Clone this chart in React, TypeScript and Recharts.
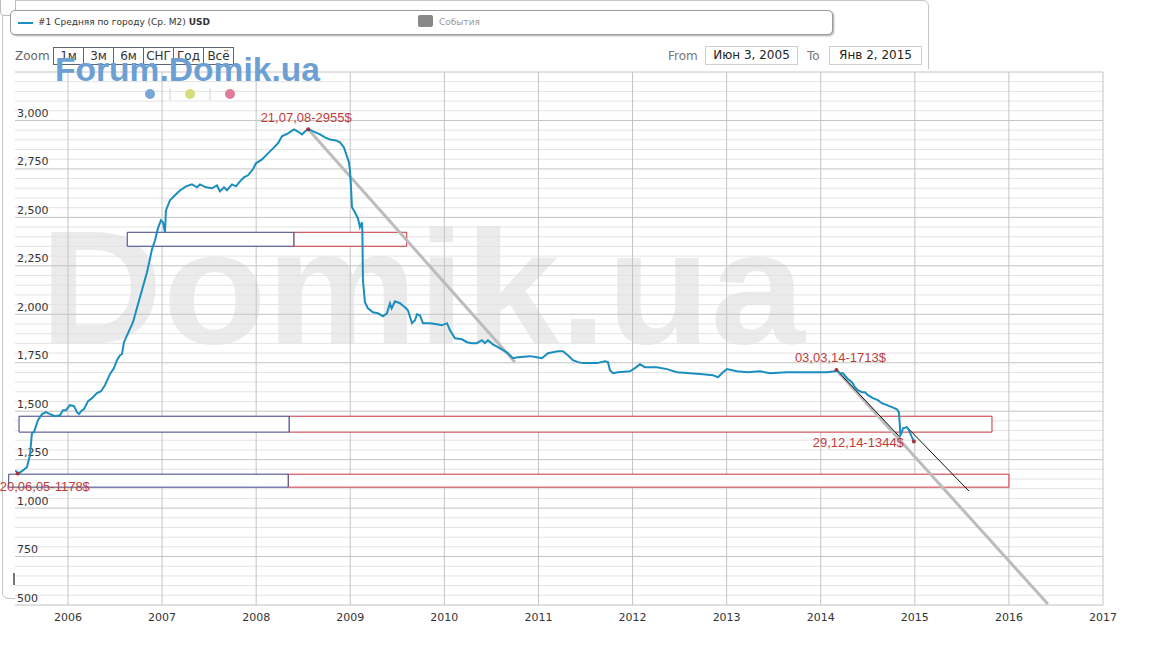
import React from 'react';
import {
  ComposedChart, Line, XAxis, YAxis, CartesianGrid, ReferenceArea, ReferenceLine, ReferenceDot,
} from 'recharts';

// ---- series: date (decimal year) / average price per m2, USD ----
const dates = [
  2005.44, 2005.469, 2005.511, 2005.564, 2005.596, 2005.617, 2005.639, 2005.681, 2005.724, 2005.766,
  2005.809, 2005.862, 2005.915, 2005.947, 2005.979, 2006.021, 2006.064, 2006.096, 2006.117, 2006.149,
  2006.170, 2006.213, 2006.255, 2006.308, 2006.351, 2006.393, 2006.446, 2006.489, 2006.521, 2006.553,
  2006.574, 2006.595, 2006.691, 2006.765, 2006.840, 2006.893, 2006.925, 2006.956, 2006.988, 2007.010,
  2007.031, 2007.041, 2007.084, 2007.137, 2007.190, 2007.254, 2007.318, 2007.371, 2007.403, 2007.467,
  2007.530, 2007.583, 2007.615, 2007.658, 2007.690, 2007.743, 2007.785, 2007.828, 2007.870, 2007.913,
  2007.966, 2007.998, 2008.062, 2008.115, 2008.179, 2008.232, 2008.274, 2008.338, 2008.402, 2008.444,
  2008.487, 2008.519, 2008.553, 2008.678, 2008.731, 2008.784, 2008.848, 2008.891, 2008.933, 2008.965,
  2008.986, 2008.997, 2009.007, 2009.018, 2009.050, 2009.082, 2009.103, 2009.124, 2009.128, 2009.135,
  2009.156, 2009.188, 2009.241, 2009.294, 2009.347, 2009.390, 2009.422, 2009.440, 2009.475, 2009.528,
  2009.581, 2009.613, 2009.656, 2009.688, 2009.709, 2009.740, 2009.773, 2009.847, 2009.921, 2009.974,
  2010.028, 2010.060, 2010.113, 2010.187, 2010.240, 2010.293, 2010.346, 2010.400, 2010.431, 2010.463,
  2010.516, 2010.570, 2010.623, 2010.676, 2010.729, 2010.782, 2010.910, 2010.984, 2011.037, 2011.101,
  2011.154, 2011.207, 2011.260, 2011.313, 2011.367, 2011.420, 2011.473, 2011.547, 2011.622, 2011.707,
  2011.739, 2011.760, 2011.792, 2011.845, 2011.972, 2012.026, 2012.079, 2012.132, 2012.259, 2012.366,
  2012.472, 2012.610, 2012.748, 2012.854, 2012.908, 2012.961, 2013.003, 2013.109, 2013.216, 2013.354,
  2013.460, 2013.641, 2013.779, 2013.917, 2014.066, 2014.151, 2014.167, 2014.204, 2014.236, 2014.279,
  2014.331, 2014.364, 2014.395, 2014.438, 2014.470, 2014.502, 2014.555, 2014.608, 2014.650, 2014.703,
  2014.757, 2014.810, 2014.831, 2014.842, 2014.846, 2014.863, 2014.874, 2014.916, 2014.937, 2014.969,
  2014.990,
];
const prices = [
  1195, 1178, 1191, 1211, 1273, 1387, 1392, 1454, 1485, 1495,
  1485, 1474, 1479, 1505, 1505, 1531, 1526, 1495, 1485, 1505,
  1510, 1552, 1567, 1593, 1603, 1634, 1691, 1722, 1763, 1789,
  1794, 1856, 1959, 2088, 2217, 2335, 2382, 2443, 2485, 2474,
  2423, 2536, 2588, 2614, 2639, 2660, 2670, 2655, 2670, 2655,
  2650, 2665, 2634, 2655, 2640, 2670, 2660, 2686, 2706, 2717,
  2748, 2779, 2799, 2825, 2856, 2882, 2918, 2933, 2954, 2943,
  2928, 2943, 2955, 2928, 2913, 2902, 2897, 2887, 2861, 2815,
  2784, 2742, 2665, 2552, 2526, 2495, 2449, 2474, 2443, 2175,
  2062, 2031, 2010, 2005, 1990, 2005, 2057, 2031, 2067, 2057,
  2036, 2021, 1954, 1969, 2000, 1995, 1954, 1954, 1949, 1943,
  1954, 1918, 1876, 1871, 1856, 1851, 1851, 1866, 1851, 1866,
  1845, 1830, 1815, 1799, 1773, 1778, 1784, 1778, 1773, 1799,
  1804, 1809, 1809, 1789, 1763, 1753, 1748, 1748, 1748, 1758,
  1753, 1711, 1696, 1701, 1706, 1722, 1742, 1727, 1727, 1717,
  1701, 1696, 1691, 1686, 1675, 1701, 1717, 1706, 1701, 1706,
  1696, 1701, 1701, 1701, 1701, 1706, 1713, 1696, 1696, 1670,
  1650, 1624, 1608, 1598, 1598, 1583, 1567, 1557, 1541, 1531,
  1521, 1510, 1495, 1418, 1376, 1392, 1412, 1418, 1402, 1366,
  1344,
];

// ---- axes / grid ----
const yearTicks = [2006, 2007, 2008, 2009, 2010, 2011, 2012, 2013, 2014, 2015, 2016, 2017];
const priceTicks = [500, 750, 1000, 1250, 1500, 1750, 2000, 2250, 2500, 2750, 3000];
const minorPriceLines = Array.from({ length: 56 }, (_, i) => 500 + i * 50).filter((v) => v % 250 !== 0);
const majorPriceLines = [750, 1000, 1250, 1500, 1750, 2000, 2250, 2500, 2750, 3000, 3250];
const X_DOMAIN: [number, number] = [2005.437, 2017];
const Y_DOMAIN: [number, number] = [500, 3250];

// ---- annotations ----
const annDates = [2008.553, 2014.167, 2014.99, 2005.466];
const annValues = [2955, 1713, 1344, 1178];
const annTexts = ['21,07,08-2955$', '03,03,14-1713$', '29,12,14-1344$', '20,06,05-1178$'];

// support / resistance bands (blue part, red part)
const bandLow = [2351, 1392, 1108];
const bandHigh = [2423, 1474, 1175];
const bandStart = [2006.63, 2005.48, 2005.37];
const bandSplit = [2008.40, 2008.35, 2008.34];
const bandEnd = [2009.60, 2015.82, 2016.0];

// trend lines
const grayFromX = [2008.553, 2014.167];
const grayFromY = [2955, 1713];
const grayToX = [2010.75, 2016.414];
const grayToY = [1753, 505];
const blackFromX = [2014.167, 2014.916];
const blackFromY = [1713, 1418];
const blackToX = [2014.842, 2015.575];
const blackToY = [1366, 1088];

const data = dates.map((t, i) => ({ t, price: prices[i] }));

const LINE_COLOR = '#1b8ec0';
const ANN_COLOR = '#c23b3b';
const BLUE_BOX = '#3c3f86';
const RED_BOX = '#c8323c';
const GRID_MAJOR = '#c4c4c4';
const GRID_MINOR = '#e3e3e3';

// label placement styles: [dx, dy, anchor]
const annStyle: [number, number, 'start' | 'middle' | 'end'][] = [
  [-2, -7, 'middle'],
  [4, -8, 'middle'],
  [-10, 6, 'end'],
  [-18, 17, 'start'],
];

const yGen = (values: number[]) => (props: any) => {
  const s = props?.yAxis?.scale;
  const off = props?.offset ?? { top: 72, height: 533 };
  return values.map((v) =>
    typeof s === 'function' ? s(v) : off.top + ((Y_DOMAIN[1] - v) / (Y_DOMAIN[1] - Y_DOMAIN[0])) * off.height);
};
const xGen = (values: number[]) => (props: any) => {
  const s = props?.xAxis?.scale;
  const off = props?.offset ?? { left: 15, width: 1088 };
  return values.map((v) =>
    typeof s === 'function' ? s(v) : off.left + ((v - X_DOMAIN[0]) / (X_DOMAIN[1] - X_DOMAIN[0])) * off.width);
};

const makeYLabel = (value: number) => (p: any) => {
  const vb = p.viewBox || {};
  return (
    <text x={(vb.x ?? 0) + 2} y={(vb.y ?? 0) - 3.5} fontSize={11} fill="#333"
      fontFamily="DejaVu Sans, sans-serif">
      {value.toLocaleString('en-US')}
    </text>
  );
};

const makeAnnLabel = (i: number) => (p: any) => {
  const vb = p.viewBox || {};
  const cx = (vb.x ?? 0) + (vb.width ?? 0) / 2;
  const cy = (vb.y ?? 0) + (vb.height ?? 0) / 2;
  const [dx, dy, anchor] = annStyle[i];
  return (
    <text x={cx + dx} y={cy + dy} textAnchor={anchor} fontSize={13}
      fontFamily="Liberation Sans, Arial, sans-serif" fill={ANN_COLOR}>
      {annTexts[i]}
    </text>
  );
};

const abs = (s: React.CSSProperties): React.CSSProperties => ({ position: 'absolute', boxSizing: 'border-box', ...s });

const zoomButtons = ['1м', '3м', '6м', 'СНГ', 'Год', 'Всё'];

export default function App() {
  return (
    <div style={abs({ left: 0, top: 0, width: 1155, height: 667, background: '#fff', overflow: 'hidden', fontFamily: 'DejaVu Sans, sans-serif' })}>
      {/* outer frame of the original widget */}
      <div style={abs({ left: 2, top: 0, width: 927, height: 599, border: '1px solid #c6c6c6', borderRadius: 6 })} />
      <div style={abs({ left: 0, top: -4, width: 16, height: 20, border: '1px solid #bdbdbd', borderRadius: 4, background: '#fff' })} />
      {/* white area beneath the plot */}
      <div style={abs({ left: 15, top: 69, width: 1140, height: 598, background: '#fff' })} />
      <div style={abs({ left: 13, top: 573, width: 2, height: 12, background: '#777' })} />

      {/* watermark */}
      <svg width={1155} height={667} style={{ position: 'absolute', left: 0, top: 0 }}>
        <text x={40} y={343} fontSize={162} fontWeight="bold" fontFamily="Liberation Sans, Arial, sans-serif"
          fill="#ebebeb" textLength={765} lengthAdjust="spacingAndGlyphs">Domik.ua</text>
      </svg>

      {/* chart */}
      <div style={abs({ left: 0, top: 0 })}>
        <ComposedChart width={1155} height={667} data={data}
          margin={{ top: 72, right: 52, bottom: 32, left: 15 }}>
          <CartesianGrid vertical={false} stroke={GRID_MINOR}
            horizontalCoordinatesGenerator={yGen(minorPriceLines)} />
          <CartesianGrid stroke={GRID_MAJOR}
            horizontalCoordinatesGenerator={yGen(majorPriceLines)}
            verticalCoordinatesGenerator={xGen(yearTicks)} />
          <XAxis type="number" dataKey="t" domain={X_DOMAIN} allowDataOverflow ticks={yearTicks}
            tickLine={false} axisLine={{ stroke: '#c0c0c0' }} height={30}
            tick={{ fontSize: 11, fill: '#333', fontFamily: 'DejaVu Sans, sans-serif' }}
            tickFormatter={(v: number) => String(v)} />
          <YAxis type="number" domain={Y_DOMAIN} allowDataOverflow ticks={priceTicks} mirror width={0}
            tickLine={false} axisLine={{ stroke: '#c0c0c0' }} tick={false} />

          {bandLow.map((lo, i) => (
            <ReferenceArea key={'r' + i} x1={bandSplit[i]} x2={bandEnd[i]} y1={lo} y2={bandHigh[i]}
              ifOverflow="visible" fill="#fff" fillOpacity={1} stroke={RED_BOX} strokeWidth={1} />
          ))}
          {bandLow.map((lo, i) => (
            <ReferenceArea key={'b' + i} x1={bandStart[i]} x2={bandSplit[i]} y1={lo} y2={bandHigh[i]}
              ifOverflow="visible" fill="#fff" fillOpacity={1} stroke={BLUE_BOX} strokeWidth={1} />
          ))}

          {priceTicks.map((v) => (
            <ReferenceLine key={'yl' + v} y={v} stroke="none" label={{ content: makeYLabel(v) }} />
          ))}

          {grayFromX.map((x, i) => (
            <ReferenceLine key={'g' + i} ifOverflow="visible"
              segment={[{ x, y: grayFromY[i] }, { x: grayToX[i], y: grayToY[i] }]}
              stroke="#bcbcbc" strokeWidth={3} />
          ))}
          {blackFromX.map((x, i) => (
            <ReferenceLine key={'k' + i} ifOverflow="visible"
              segment={[{ x, y: blackFromY[i] }, { x: blackToX[i], y: blackToY[i] }]}
              stroke="#111" strokeWidth={1} />
          ))}

          <Line type="linear" dataKey="price" stroke={LINE_COLOR} strokeWidth={2} dot={false}
            isAnimationActive={false} />

          {annDates.map((x, i) => (
            <ReferenceDot key={'d' + i} x={x} y={annValues[i]} r={2} fill="#a8303a" stroke="none"
              ifOverflow="visible" label={{ content: makeAnnLabel(i) }} />
          ))}
        </ComposedChart>
      </div>

      {/* legend */}
      <div style={abs({ left: 10, top: 10, width: 823, height: 25, border: '1px solid #9c9c9c', borderRadius: 5, boxShadow: '1px 1px 2px rgba(0,0,0,0.35)', background: '#fff' })}>
        <div style={abs({ left: 7, top: 11, width: 15, height: 2, background: LINE_COLOR })} />
        <div style={abs({ left: 27, top: 5, fontSize: 9, lineHeight: '12px', color: '#333', whiteSpace: 'nowrap' })}>
          #1 Средняя по городу (Ср. М2) <b>USD</b>
        </div>
        <div style={abs({ left: 407, top: 4, width: 15, height: 12, background: '#888', borderRadius: 2 })} />
        <div style={abs({ left: 428, top: 5, fontSize: 9, lineHeight: '12px', color: '#999', whiteSpace: 'nowrap' })}>События</div>
      </div>

      {/* zoom controls */}
      <div style={abs({ left: 15, top: 48, fontSize: 12, lineHeight: '16px', color: '#666' })}>Zoom</div>
      {zoomButtons.map((b, i) => (
        <div key={b} style={abs({ left: 53 + i * 30, top: 47, width: 31, height: 18, border: '1px solid #5d6570', fontSize: 12, lineHeight: '16px', color: '#333', textAlign: 'center', background: 'transparent' })}>{b}</div>
      ))}

      {/* from / to */}
      <div style={abs({ left: 668, top: 48, fontSize: 12, lineHeight: '16px', color: '#777' })}>From</div>
      <div style={abs({ left: 705, top: 46, width: 93, height: 19, border: '1px solid #cfcfcf', fontSize: 12, lineHeight: '17px', color: '#222', textAlign: 'center' })}>Июн 3, 2005</div>
      <div style={abs({ left: 807, top: 48, fontSize: 12, lineHeight: '16px', color: '#777' })}>To</div>
      <div style={abs({ left: 829, top: 46, width: 93, height: 19, border: '1px solid #cfcfcf', fontSize: 12, lineHeight: '17px', color: '#222', textAlign: 'center' })}>Янв 2, 2015</div>

      {/* site logo */}
      <svg width={400} height={110} style={{ position: 'absolute', left: 0, top: 0 }}>
        <text x={55} y={81} fontSize={33} fontWeight="bold" fontFamily="Liberation Sans, Arial, sans-serif"
          fill="#6c9fd4" textLength={265} lengthAdjust="spacingAndGlyphs">Forum.Domik.ua</text>
        <circle cx={150} cy={94} r={5} fill="#78a6d6" />
        <line x1={170} y1={88} x2={170} y2={100} stroke="#d0d0d0" />
        <circle cx={190} cy={94} r={5} fill="#d6dc7a" />
        <line x1={210} y1={88} x2={210} y2={100} stroke="#d0d0d0" />
        <circle cx={230} cy={94} r={5} fill="#e07b98" />
      </svg>
    </div>
  );
}
